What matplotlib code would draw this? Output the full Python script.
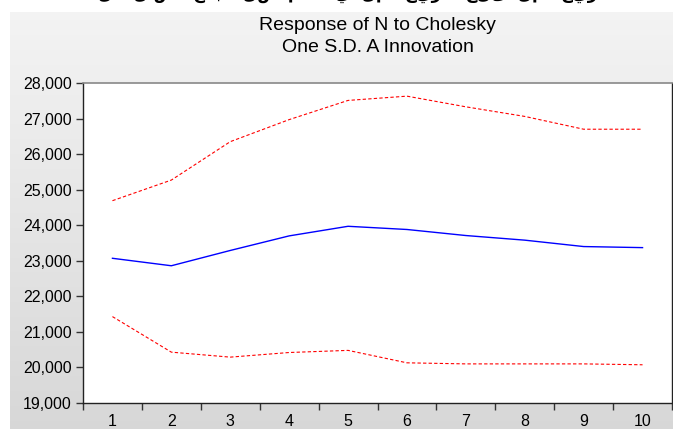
import numpy as np
import matplotlib
matplotlib.use("Agg")
import matplotlib.pyplot as plt
from matplotlib.ticker import FuncFormatter

plt.rcParams['font.family'] = ['Liberation Sans', 'DejaVu Sans']

# impulse response of N to a one S.D. shock in A, with +/- 2 S.E. bands
periods = [1, 2, 3, 4, 5, 6, 7, 8, 9, 10]
response = [23070, 22860, 23290, 23700, 23970, 23880, 23710, 23580, 23400, 23370]
upper_band = [24690, 25270, 26350, 26970, 27510, 27630, 27330, 27060, 26700, 26700]
lower_band = [21430, 20430, 20290, 20420, 20480, 20130, 20100, 20100, 20100, 20075]

title_lines = ["Response of N to Cholesky", "One S.D. A Innovation"]
header_text = "دالة الاستجابة لصدمة في المتغير A على المتغير N"

fig = plt.figure(figsize=(6.73, 4.29), dpi=100)
fig.patch.set_facecolor('white')

# grey panel with a soft vertical gradient behind the chart
bg = fig.add_axes([10 / 673, 0, 1 - 10 / 673, (429 - 12) / 429], zorder=0)
grad = np.linspace(0.955, 0.845, 256).reshape(-1, 1)
bg.imshow(np.dstack([grad, grad, grad]), aspect='auto', extent=[0, 1, 0, 1])
bg.set_axis_off()

# header line above the panel; only its lower edge falls inside the figure
fig.text(0.52, 1.0 + 6 / 429, header_text, ha='center', va='center',
         fontsize=12, color='black', family=['DejaVu Sans'], fontweight='bold')

ax = fig.add_axes([83 / 673, (429 - 403) / 429, (672 - 83) / 673, (403 - 83) / 429], zorder=1)
ax.set_facecolor('white')

ax.plot(periods, response, color='#0000ff', linewidth=1.0, solid_joinstyle='round')
ax.plot(periods, upper_band, color='#ff0000', linewidth=0.8, linestyle=(0, (3, 2)))
ax.plot(periods, lower_band, color='#ff0000', linewidth=0.8, linestyle=(0, (3, 2)))

ax.set_xlim(0.5, 10.5)
ax.set_ylim(19000, 28000)

# tick marks between periods, labels centred on the periods
ax.set_xticks(np.arange(0.5, 11, 1))
ax.set_xticklabels([])
ax.set_xticks(periods, minor=True)
ax.set_xticklabels([str(p) for p in periods], minor=True)
ax.tick_params(axis='x', which='major', direction='out', length=5, width=1, color='#333333')
ax.tick_params(axis='x', which='minor', length=0, pad=8, labelsize=11.5)

ax.set_yticks(np.arange(19000, 28001, 1000))
ax.yaxis.set_major_formatter(FuncFormatter(lambda v, _: f"{int(v):,}"))
ax.tick_params(axis='y', direction='out', length=5, width=1, color='#333333',
               labelsize=11.5, pad=3)

for side in ['left', 'bottom', 'right']:
    ax.spines[side].set_color('#222222')
    ax.spines[side].set_linewidth(1)
ax.spines['top'].set_color('#888888')
ax.spines['top'].set_linewidth(1.2)

fig.text(0.561, 1 - 25 / 429, title_lines[0], ha='center', va='center', fontsize=14)
fig.text(0.561, 1 - 47 / 429, title_lines[1], ha='center', va='center', fontsize=14)

fig.savefig('out.png', dpi=100)
